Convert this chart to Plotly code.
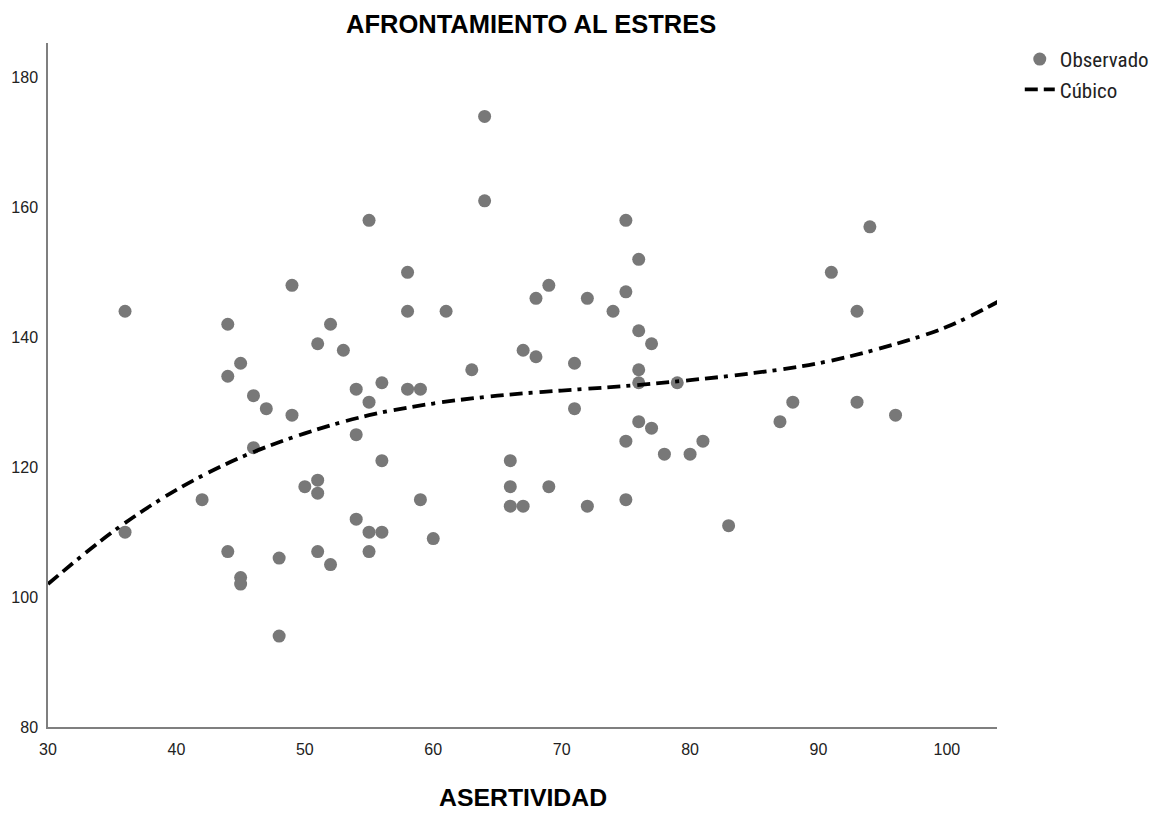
import plotly.graph_objects as go

# Observed scores: ASERTIVIDAD (x) vs AFRONTAMIENTO AL ESTRES (y)
asertividad = [36, 36, 42, 44, 44, 44, 45, 45, 45, 46, 46, 47, 48, 48, 49, 49, 50,
               51, 51, 51, 51, 52, 52, 53, 54, 54, 54, 55, 55, 55, 55, 56, 56, 56,
               58, 58, 58, 59, 59, 60, 61, 63, 64, 64, 66, 66, 66, 67, 67, 68, 68,
               69, 69, 71, 71, 72, 72, 74, 75, 75, 75, 75, 76, 76, 76, 76, 76, 77,
               77, 78, 79, 80, 81, 83, 87, 88, 91, 93, 93, 94, 96]
afrontamiento = [144, 110, 115, 142, 134, 107, 136, 103, 102, 131, 123, 129, 106, 94,
                 148, 128, 117, 139, 118, 116, 107, 142, 105, 138, 132, 125, 112, 158,
                 130, 110, 107, 133, 121, 110, 150, 144, 132, 132, 115, 109, 144, 135,
                 174, 161, 121, 117, 114, 138, 114, 146, 137, 148, 117, 136, 129, 146,
                 114, 144, 158, 147, 124, 115, 152, 141, 135, 133, 127, 139, 126, 122,
                 133, 122, 124, 111, 127, 130, 150, 144, 130, 157, 128]

# Cubic model curve, sampled along the x axis
cubico_x = [30, 35, 40, 45, 50, 55, 60, 65, 70, 75, 80, 85, 90, 95, 100, 104]
cubico_y = [102.0, 110.0, 116.5, 121.5, 125.2, 128.0, 129.8, 131.0, 131.8, 132.5,
            133.4, 134.5, 136.0, 138.4, 141.6, 145.5]

x_ticks = [30, 40, 50, 60, 70, 80, 90, 100]
y_ticks = [80, 100, 120, 140, 160, 180]

FONT = "Liberation Sans, Arial, sans-serif"
NARROW = "Liberation Sans Narrow, Arial Narrow, Roboto Condensed, Liberation Sans, sans-serif"

fig = go.Figure()
fig.add_trace(go.Scatter(
    x=asertividad, y=afrontamiento, mode="markers", name="Observado",
    marker=dict(size=13, color="#787878", line=dict(width=0)),
))
fig.add_trace(go.Scatter(
    x=cubico_x, y=cubico_y, mode="lines", name="Cúbico",
    line=dict(color="black", width=3.8, dash="13px,6px,13px,6px,4px,7px",
              shape="spline"),
))

fig.update_layout(
    width=1171, height=815,
    margin=dict(l=48, r=174, t=43, b=88),
    paper_bgcolor="white", plot_bgcolor="white",
    showlegend=True,
    legend=dict(x=1.024, y=1.006, xanchor="left", yanchor="top",
                font=dict(family=NARROW, size=21, color="#222"),
                bgcolor="rgba(0,0,0,0)", tracegroupgap=0),
    xaxis=dict(range=[30, 103.9], tickvals=x_ticks, showgrid=False, zeroline=False,
               showline=True, linecolor="#7f7f7f", linewidth=1.5, ticks="",
               tickfont=dict(family=FONT, size=16, color="#222"),
               ticklabelstandoff=7),
    yaxis=dict(range=[80, 185.3], tickvals=y_ticks, showgrid=False, zeroline=False,
               showline=True, linecolor="#7f7f7f", linewidth=1.5, ticks="",
               tickfont=dict(family=FONT, size=16, color="#222"),
               ticklabelstandoff=5),
    annotations=[
        dict(text="<b>AFRONTAMIENTO AL ESTRES</b>", xref="paper", yref="paper",
             x=0.509, y=1.028, xanchor="center", yanchor="middle", showarrow=False,
             font=dict(family=FONT, size=25.5, color="black")),
        dict(text="<b>ASERTIVIDAD</b>", xref="paper", yref="paper",
             x=0.5005, y=-0.1038, xanchor="center", yanchor="middle", showarrow=False,
             font=dict(family=FONT, size=24.8, color="black")),
    ],
)

fig.write_html("out.html")
